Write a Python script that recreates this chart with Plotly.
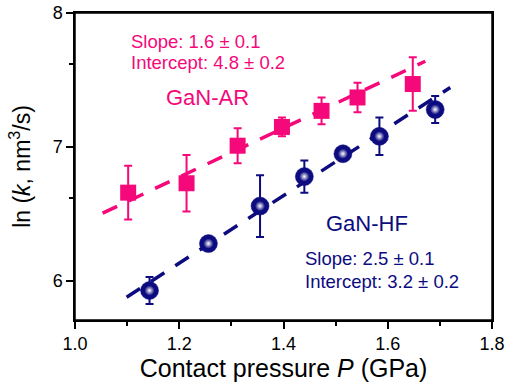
import plotly.graph_objects as go
import numpy as np

# GaN-AR (pink squares)
ar_p = [1.102, 1.214, 1.312, 1.397, 1.473, 1.542, 1.648]
ar_lnk = [6.66, 6.73, 7.01, 7.15, 7.27, 7.37, 7.47]
ar_err = [0.20, 0.21, 0.13, 0.07, 0.10, 0.11, 0.20]

# GaN-HF (navy spheres)
hf_p = [1.143, 1.256, 1.355, 1.440, 1.514, 1.584, 1.691]
hf_lnk = [5.93, 6.28, 6.56, 6.78, 6.95, 7.08, 7.28]
hf_err = [0.10, 0.02, 0.23, 0.12, 0.02, 0.14, 0.10]

# fitted lines (slope, intercept as drawn) and their P ranges
ar_fit = (1.83, 4.58)
ar_fit_range = [1.053, 1.672]
hf_fit = (2.52, 3.11)
hf_fit_range = [1.099, 1.720]

PINK = "#F5087A"
NAVY = "#0C0C80"

fig = go.Figure()

for rng, (m, b), col in [(ar_fit_range, ar_fit, PINK), (hf_fit_range, hf_fit, NAVY)]:
    xs = np.array(rng)
    fig.add_trace(go.Scatter(x=xs, y=m * xs + b, mode="lines",
                             line=dict(color=col, width=3.5, dash="16px,13px"),
                             hoverinfo="skip", showlegend=False))

fig.add_trace(go.Scatter(
    x=ar_p, y=ar_lnk, mode="markers",
    marker=dict(symbol="square", size=16, color=PINK, line=dict(width=0)),
    error_y=dict(type="data", array=ar_err, color=PINK, thickness=2, width=4),
    showlegend=False))

fig.add_trace(go.Scatter(
    x=hf_p, y=hf_lnk, mode="markers",
    marker=dict(symbol="circle", size=18, color=NAVY,
                line=dict(width=0.5, color=NAVY)),
    error_y=dict(type="data", array=hf_err, color=NAVY, thickness=2, width=4),
    showlegend=False))

# sphere highlight
fig.add_trace(go.Scatter(
    x=hf_p, y=hf_lnk, mode="markers",
    marker=dict(symbol="circle", size=10, color=NAVY,
                gradient=dict(type="radial", color="#FFFFFF"),
                line=dict(width=0)),
    hoverinfo="skip", showlegend=False))

font = "Liberation Sans, Arial, sans-serif"
annots = [
    ("Slope: 1.6 ± 0.1", 1.104, 7.79, PINK, 18.5),
    ("Intercept: 4.8 ± 0.2", 1.104, 7.63, PINK, 18.5),
    ("GaN-AR", 1.170, 7.37, PINK, 22),
    ("GaN-HF", 1.478, 6.43, NAVY, 22),
    ("Slope: 2.5 ± 0.1", 1.437, 6.17, NAVY, 18.5),
    ("Intercept: 3.2 ± 0.2", 1.437, 6.00, NAVY, 18.5),
]
for txt, x, y, col, sz in annots:
    fig.add_annotation(x=x, y=y, text=txt, showarrow=False, xanchor="left",
                       yanchor="middle", font=dict(color=col, size=sz, family=font))

axis_common = dict(showline=True, linecolor="black", linewidth=1.5, mirror=True,
                   ticks="outside", ticklen=7, tickwidth=1.5, tickcolor="black",
                   showgrid=False, zeroline=False, automargin=False,
                   tickfont=dict(size=18, family=font, color="black"))

fig.update_xaxes(range=[1.0, 1.8], tickvals=[1.0, 1.2, 1.4, 1.6, 1.8],
                 ticktext=["1.0", "1.2", "1.4", "1.6", "1.8"],
                 minor=dict(tickvals=[1.1, 1.3, 1.5, 1.7], ticks="outside",
                            ticklen=4, tickwidth=1.5, tickcolor="black"),
                 title=dict(text="Contact pressure <i>P</i> (GPa)",
                            font=dict(size=25, family=font, color="black"), standoff=3),
                 **axis_common)
fig.update_yaxes(range=[5.71, 8.0], tickvals=[6, 7, 8],
                 minor=dict(tickvals=[6.62, 7.62], ticks="outside",
                            ticklen=4, tickwidth=1.5, tickcolor="black"),
                 title=dict(text="ln (<i>k</i>, nm<sup>3</sup>/s)",
                            font=dict(size=23, family=font, color="black"), standoff=16),
                 **axis_common)

# plot frame
fig.add_shape(type="rect", xref="paper", yref="paper", x0=0, y0=0, x1=1, y1=1,
              line=dict(color="black", width=1.5), layer="above")

fig.update_layout(width=510, height=389, margin=dict(l=75, r=18, t=13, b=69),
                  plot_bgcolor="white", paper_bgcolor="white")

fig.write_html("out.html", config={"displayModeBar": False},
               post_script="document.body.style.margin='0';document.body.style.overflow='hidden';")
